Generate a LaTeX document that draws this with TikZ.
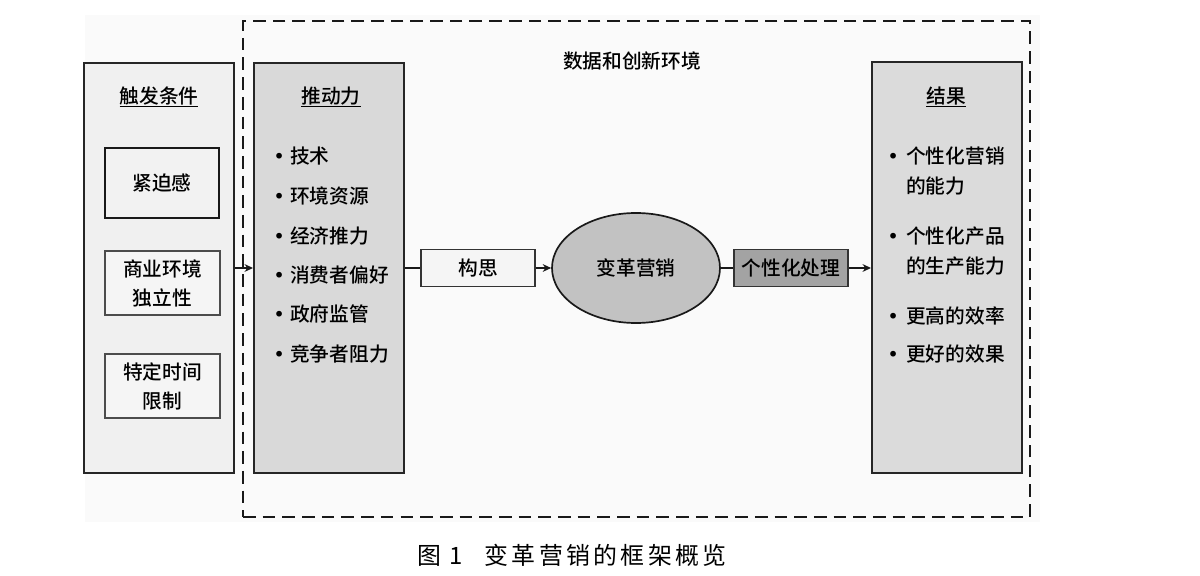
\documentclass[tikz,border=0pt]{standalone}
\usepackage{fontspec}
\setmainfont{Noto Sans CJK SC}[UprightFont={* Medium}]
\newfontfamily\capfont[LetterSpace=14]{Noto Sans CJK SC}
\newfontfamily\bulfont{DejaVu Sans}
\usetikzlibrary{arrows.meta,shapes.geometric}
\begin{document}
\begin{tikzpicture}[x=0.025cm,y=-0.025cm,
  every node/.style={text=black, font=\fontsize{14pt}{20.6pt}\selectfont},
  panel/.style={draw=black!85, line width=1.4pt, minimum width={150*0.025cm}, inner sep=0pt},
  subbox/.style={draw=black!70, line width=0.8pt, fill=black!4, minimum width={115*0.025cm}, minimum height={64*0.025cm}, align=center, inner sep=0pt},
  flowbox/.style={draw=black!80, line width=0.9pt, minimum width={114*0.025cm}, minimum height={37*0.025cm}, inner sep=0pt},
  title/.style={inner sep=0pt},
  item/.style={anchor=west, inner sep=0pt, text height=0.88em, text depth=0.12em},
  bul/.style={item, font=\bulfont\fontsize{14pt}{14pt}\selectfont},
  conn/.style={line width=1.4pt, draw=black!90},
  arr/.style={conn, -{Stealth[length=6pt,width=5.5pt]}}
]
\useasboundingbox (0,0) rectangle (1200,576);
\fill[black!2] (85,15) rectangle (1040,522);

% dashed environment frame
\node[draw=black!90, line width=1.6pt, dash pattern=on 9pt off 5pt, minimum width={787*0.025cm}, minimum height={496*0.025cm}, inner sep=0pt] (env) at (636.5,269) {};
\node[title] (envt) at (632,61) {数据和创新环境};

% trigger panel
\node[panel, fill=black!6, minimum height={410*0.025cm}] (trig) at (159,268) {};
\node[title] (trigt) at (159,97) {\underline{触发条件}};
\node[draw=black!90, line width=1.4pt, fill=black!5, minimum width={114*0.025cm}, minimum height={70*0.025cm}, inner sep=0pt] (urg) at (162,183) {紧迫感};
\node[subbox] (biz) at (162.5,283) {商业环境\\独立性};
\node[subbox] (time) at (162.5,386) {特定时间\\限制};

% driver panel
\node[panel, fill=black!15, minimum height={410*0.025cm}] (drv) at (329,268) {};
\node[title] (drvt) at (331,97) {\underline{推动力}};
\foreach \t/\y [count=\i] in {技术/158,环境资源/198,经济推力/238,消费者偏好/277,政府监管/316,竞争者阻力/356}{
  \node[bul] (db\i) at (273,\y) {•};
  \node[item] (d\i) at (290,\y) {\t};
}

% flow
\node[flowbox, fill=black!4] (idea) at (478,268) {构思};
\node[ellipse, draw=black!90, line width=1.2pt, fill=black!24, minimum width={168*0.025cm}, minimum height={110*0.025cm}, inner sep=0pt] (ell) at (636,268) {变革营销};
\node[flowbox, fill=black!36] (pers) at (791,268) {个性化处理};

% result panel
\node[panel, fill=black!14, minimum height={411*0.025cm}] (res) at (947,267.5) {};
\node[title] (rest) at (946,97) {\underline{结果}};
\foreach \t/\y [count=\i] in {个性化营销/158,个性化产品/238,更高的效率/318,更好的效果/356}{
  \node[bul] (rb\i) at (887,\y) {•};
  \node[item] (r\i) at (906,\y) {\t};
}
\node[item] (r1b) at (906,188) {的能力};
\node[item] (r2b) at (906,268) {的生产能力};

% connectors
\draw[arr] (trig.east) -- (drv.west);
\draw[conn] (drv.east) -- (idea.west);
\draw[arr] (idea.east) -- (ell.west);
\draw[conn] (ell.east) -- (pers.west);
\draw[arr] (pers.east) -- (res.west |- pers.east);

% caption
\node[inner sep=0pt, font=\fontsize{17pt}{20pt}\selectfont] (cap) at (572,555) {\capfont 图\hspace{0.35em}1\hspace{0.9em}变革营销的框架概览};
\end{tikzpicture}
\end{document}
